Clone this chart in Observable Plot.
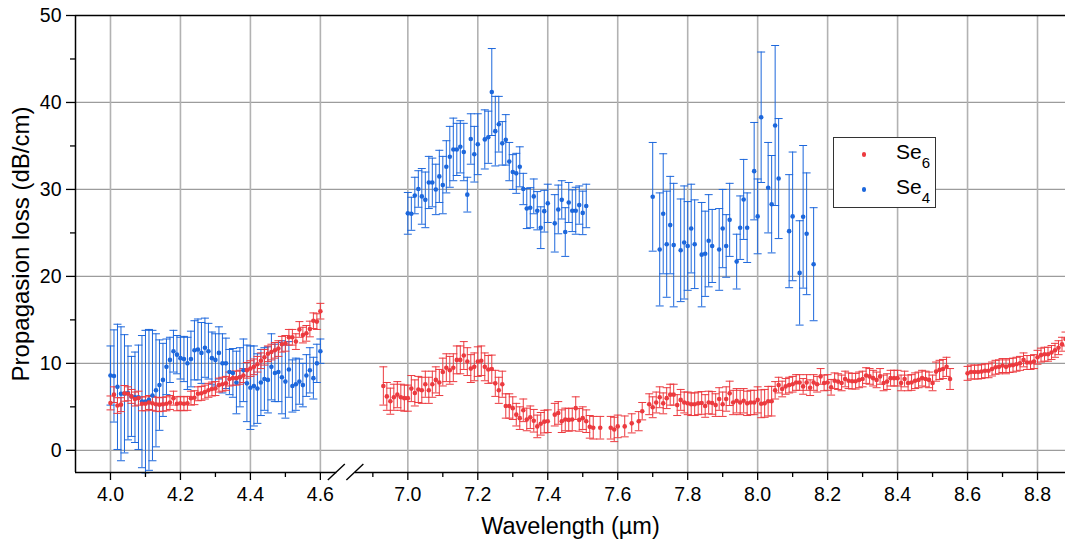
<!DOCTYPE html>
<html>
<head>
<meta charset="utf-8">
<script src="https://cdn.jsdelivr.net/npm/d3@7"></script>
<script src="https://cdn.jsdelivr.net/npm/@observablehq/plot@0.6"></script>
<style>
  body { margin: 0; background: #fff; }
  #wrap { position: relative; width: 1065px; height: 547px; overflow: hidden; font-family: 'Liberation Sans', Arial, sans-serif; }
  #legend { position: absolute; left: 833px; top: 137px; width: 103px; height: 71px; box-sizing: border-box; border: 1.3px solid #333; background: #fff; }
  .ldot { position: absolute; width: 4.6px; height: 4.6px; border-radius: 50%; left: 27.5px; }
  .ltxt { position: absolute; left: 62px; font-size: 21px; line-height: 20px; color: #000; white-space: nowrap; }
  .ltxt span { font-size: 15px; vertical-align: -8.5px; }
</style>
</head>
<body>
<div id="wrap">
  <div id="chart"></div>
  <div id="legend">
    <div class="ldot" style="top:14px;background:#ec3a3f"></div>
    <div class="ltxt" style="top:4px">Se<span>6</span></div>
    <div class="ldot" style="top:49px;background:#1c67dc"></div>
    <div class="ltxt" style="top:39px">Se<span>4</span></div>
  </div>
</div>
<script>
// ---------------- data ----------------
const seriesNames = ["Se6", "Se4"];
const seriesColors = ["#ec3a3f", "#1c67dc"];

// Se6 (red), 4.00–4.60 µm, step 0.01
const se6AStart = 4.00;
const se6AValues = [5.45,6.4,5.15,5.25,6.55,6.5,6.2,5.9,6.0,5.35,
  5.35,5.5,5.4,5.3,5.25,5.3,5.35,5.5,6.0,5.35,
  5.4,5.35,5.4,6.0,6.05,6.5,6.55,6.7,6.9,7.05,
  7.1,7.5,7.6,7.7,8.2,8.3,8.3,8.4,8.6,9.2,
  9.4,9.6,9.9,10.3,10.7,11.1,11.3,11.5,11.7,12.2,
  12.3,13.0,13.0,12.5,13.9,13.25,13.45,13.95,14.9,14.8,16.0];
const se6AErrors = [0.8,0.9,0.9,0.8,0.9,0.8,0.8,0.8,0.8,0.8,
  0.8,0.8,0.8,0.8,0.8,0.8,0.8,0.8,0.8,0.8,
  0.8,0.8,0.8,0.8,0.8,0.8,0.8,0.8,0.8,0.8,
  0.8,0.8,0.8,0.8,0.8,0.8,0.8,0.8,0.8,0.9,
  0.9,0.9,0.9,0.9,0.9,0.9,0.9,0.9,0.9,0.9,
  0.9,0.9,0.9,0.9,0.9,0.9,0.9,0.9,0.9,0.9,0.9];

// Se6 (red), 6.93–8.88 µm, step 0.01 (null = no point)
const se6BStart = 6.93;
const se6BValues = [7.4,6.2,5.65,6.1,6.4,6.1,6.0,
  6.0,7.1,6.6,7.0,6.9,7.6,6.9,7.6,8.1,7.8,
  9.0,9.5,9.2,9.5,10.4,10.4,10.9,10.2,9.4,9.6,
  10.2,10.3,9.6,9.3,9.35,7.7,6.9,7.6,5.1,5.1,
  4.85,4.1,3.7,4.6,3.55,3.8,3.4,2.75,3.05,3.3,
  3.35,null,4.1,4.3,3.35,3.55,3.5,3.55,4.85,3.5,
  3.7,3.35,2.7,2.6,null,2.6,null,null,2.6,2.4,
  2.75,null,2.75,null,3.1,null,3.35,4.5,null,5.3,
  4.95,5.5,6.1,5.4,6.0,6.4,6.4,5.2,5.8,5.5,
  5.4,5.3,5.3,5.4,5.45,5.1,5.5,5.45,5.2,5.9,
  5.3,5.9,6.55,5.5,5.7,5.5,5.7,5.4,5.5,5.5,
  5.8,5.35,5.4,5.65,5.65,6.9,7.5,7.05,7.35,7.5,
  7.6,7.8,7.8,7.35,7.8,7.2,7.8,7.6,8.5,7.75,
  7.8,7.25,8.0,7.9,7.75,8.2,8.0,7.95,7.95,8.1,
  8.2,8.6,8.5,8.3,8.1,8.5,7.75,7.9,8.3,8.3,
  8.3,7.75,8.2,7.75,7.8,8.0,8.1,8.3,8.2,8.1,
  7.75,9.05,9.25,9.35,9.6,8.2,null,null,null,null,
  8.85,9.0,9.0,9.0,9.05,9.15,9.15,9.35,9.55,9.6,
  9.75,9.6,9.75,9.8,9.9,10.0,10.4,10.1,10.1,10.2,
  10.7,10.95,11.05,11.05,11.25,11.5,11.8,12.2,12.8];
const se6BErrors = [2.2,1.6,1.5,1.5,1.5,1.5,1.5,
  1.5,1.5,1.5,1.5,1.5,1.5,1.5,1.5,1.5,1.5,
  1.6,1.6,1.6,1.6,1.6,1.6,1.6,1.6,1.6,1.6,
  1.7,1.7,1.6,1.6,1.6,1.5,1.5,1.5,1.4,1.4,
  1.3,1.3,1.3,1.3,1.3,1.3,1.3,1.3,1.3,1.3,
  1.3,1.3,1.3,1.3,1.3,1.3,1.3,1.3,1.3,1.3,
  1.3,1.3,1.3,1.3,1.3,1.3,1.3,1.3,1.3,1.4,
  1.3,1.3,1.2,1.2,1.1,1.1,1.1,1.0,1.2,1.2,
  1.2,1.2,1.2,1.2,1.2,1.2,1.2,1.2,1.2,1.2,
  1.3,1.3,1.3,1.3,1.3,1.3,1.3,1.3,1.3,1.3,
  1.4,1.4,1.4,1.4,1.4,1.4,1.4,1.4,1.4,1.4,
  1.5,1.6,1.6,1.7,1.7,1.0,0.9,0.9,0.9,0.9,
  0.9,0.9,0.9,0.9,0.9,0.9,0.9,0.9,0.9,0.9,
  0.9,0.9,0.9,0.9,0.9,0.9,0.9,0.9,0.9,0.9,
  0.9,0.9,0.9,0.9,0.9,0.9,0.9,0.9,0.9,0.9,
  0.9,0.9,0.9,0.9,0.9,0.9,0.9,0.9,0.9,0.9,
  0.9,1.1,1.1,1.1,1.1,1.2,0.9,0.9,0.9,0.9,
  0.8,0.8,0.8,0.8,0.8,0.8,0.8,0.8,0.8,0.8,
  0.8,0.8,0.8,0.8,0.8,0.8,0.8,0.8,0.8,0.8,
  0.8,0.8,0.8,0.8,0.8,0.8,0.8,0.8,0.8];

// Se4 (blue), 4.00–4.60 µm, step 0.01
const se4AStart = 4.00;
const se4AValues = [8.6,8.55,7.3,6.5,6.5,6.6,6.2,6.1,6.1,5.6,
  5.6,5.8,6.3,6.9,7.5,8.1,9.6,10.4,11.4,11.0,
  10.6,10.5,10.0,10.5,11.5,11.6,11.2,11.8,11.4,10.6,
  10.4,11.2,10.0,10.0,9.0,8.9,7.8,8.4,9.2,7.7,
  7.2,7.4,7.1,7.8,8.2,8.1,9.6,8.9,9.0,8.4,
  7.9,9.3,7.4,7.6,7.9,7.5,8.6,9.2,8.3,10.0,11.4];
const se4AErrors = [3.4,5.3,7.2,7.7,6.8,5.4,4.6,5.2,6.0,7.6,
  8.2,8.1,7.5,6.5,5.2,4.2,3.2,2.6,2.4,2.2,
  2.4,2.6,3.0,3.2,3.4,3.5,3.5,3.4,3.2,3.0,
  3.0,3.0,3.4,2.9,2.6,2.8,3.6,3.4,3.6,4.4,
  4.8,4.6,4.0,3.8,3.6,3.8,3.8,3.3,3.4,4.2,
  4.2,3.2,3.0,3.0,2.6,2.5,2.4,2.6,2.4,2.2,1.4];

// Se4 (blue), 7.00–7.51 µm, step 0.01
const se4BStart = 7.00;
const se4BValues = [27.25,27.2,29.3,30.05,29.2,28.8,30.8,30.8,30.0,31.5,
  30.5,32.6,33.75,34.6,34.6,34.9,34.3,29.4,35.8,34.05,
  35.2,null,35.75,36.0,41.2,36.7,37.5,35.3,35.7,33.2,
  32.0,31.85,32.6,30.05,27.8,27.9,29.2,27.55,25.6,27.5,
  28.4,null,26.1,27.7,28.8,25.1,28.5,27.55,27.55,28.2,
  27.3,28.1];
const se4BErrors = [2.4,1.9,2.1,2.1,3.2,3.2,3.0,2.8,2.9,3.0,
  3.3,3.0,3.5,3.6,3.0,3.0,3.3,2.0,2.9,3.2,
  3.5,3.5,3.4,3.0,5.0,4.0,3.2,2.5,2.9,2.2,
  2.0,2.3,2.3,1.8,2.3,2.3,2.0,2.2,2.4,2.4,
  2.2,2.2,3.3,2.8,2.2,2.8,2.3,2.4,2.7,2.2,
  2.5,2.5];

// Se4 (blue), 7.70–8.16 µm, step 0.01 (null = no point)
const se4CStart = 7.70;
const se4CValues = [29.15,null,23.1,27.2,23.7,25.9,23.6,null,23.0,23.9,
  23.5,25.5,23.7,null,22.5,22.6,24.1,23.5,null,23.1,
  25.5,23.5,26.5,null,21.7,25.6,28.85,25.6,null,32.1,
  26.9,38.3,null,30.2,28.3,37.35,31.25,null,null,25.2,
  26.9,null,20.4,26.85,24.9,null,21.4];
const se4CErrors = [6.25,6,6.5,6.9,6.1,5.6,7.1,6,5.9,6.5,
  5.1,5.1,5.1,5,6.0,4.9,5.3,4.2,5,4.7,
  4.5,3.6,4.2,4,3.15,3.65,4.6,4.0,5,5.6,
  4.3,7.5,5,5.2,5.6,9.2,6.9,6,6,6.5,
  7.4,6,6.0,8.2,7.0,6,6.5];

// axes
const xTicksMajor = [4.0,4.2,4.4,4.6,7.0,7.2,7.4,7.6,7.8,8.0,8.2,8.4,8.6,8.8];
const xTicksMinor = [4.1,4.3,4.5,6.9,7.1,7.3,7.5,7.7,7.9,8.1,8.3,8.5,8.7];
const yTicksMajor = [0,10,20,30,40,50];
const yTicksMinor = [5,15,25,35,45];
const yGrid = [0,10,20,30,40];
const xStart = 3.9, xEnd = 8.88;          // axis range (µm)
const breakLeft = 4.647, breakRight = 6.85; // axis break (µm)
const breakShift = 2.15;                  // removed span of the broken axis
const yMin = -2.55, yMax = 50;
const xTitle = "Wavelength (µm)";
const yTitle = "Propagasion loss (dB/cm)";

// ---------------- build ----------------
const xPos = wl => (wl < 6 ? wl : wl - breakShift);
const fmt = v => (v <= breakLeft ? v : v + breakShift).toFixed(1);

function build(start, vals, errs) {
  const out = [];
  vals.forEach((y, i) => {
    if (y == null) return;
    out.push({ wl: Math.round(start * 100 + i) / 100, y, e: errs[i] });
  });
  return out;
}
const se6 = [...build(se6AStart, se6AValues, se6AErrors), ...build(se6BStart, se6BValues, se6BErrors)];
const se4 = [...build(se4AStart, se4AValues, se4AErrors), ...build(se4BStart, se4BValues, se4BErrors), ...build(se4CStart, se4CValues, se4CErrors)];

const capSymbol = { draw(ctx) { ctx.moveTo(-4, 0); ctx.lineTo(4, 0); } };

function errMarks(data, color) {
  return [
    Plot.ruleX(data, { x: d => xPos(d.wl), y1: d => d.y - d.e, y2: d => d.y + d.e, stroke: color, strokeWidth: 1 }),
    Plot.dot(data, { x: d => xPos(d.wl), y: d => d.y + d.e, symbol: capSymbol, stroke: color, fill: "none", strokeWidth: 1 }),
    Plot.dot(data, { x: d => xPos(d.wl), y: d => d.y - d.e, symbol: capSymbol, stroke: color, fill: "none", strokeWidth: 1 })
  ];
}
function dotMarks(data, color) {
  return Plot.dot(data, { x: d => xPos(d.wl), y: "y", r: 2.3, fill: color, stroke: "none" });
}

const chart = Plot.plot({
  width: 1065,
  height: 547,
  marginLeft: 75,
  marginRight: 0,
  marginTop: 15,
  marginBottom: 75,
  style: { fontFamily: "'Liberation Sans', Arial, sans-serif", fontSize: "19px", color: "#000", background: "#fff", overflow: "visible" },
  x: { domain: [xPos(xStart), xPos(xEnd)] },
  y: { domain: [yMin, yMax] },
  marks: [
    Plot.gridY(yGrid, { stroke: "#9c9c9c", strokeOpacity: 1, strokeWidth: 1.2 }),
    Plot.gridX(xTicksMajor.map(xPos), { stroke: "#b2b2b2", strokeOpacity: 1, strokeWidth: 1.6 }),
    ...errMarks(se4, seriesColors[1]),
    ...errMarks(se6, seriesColors[0]),
    dotMarks(se4, seriesColors[1]),
    dotMarks(se6, seriesColors[0]),
    Plot.axisY(yTicksMajor, { tickSize: 9, tickPadding: 5, label: null, strokeWidth: 1.3, fontSize: 19.5 }),
    Plot.axisY(yTicksMinor, { tickSize: 5, tickFormat: () => "", fill: "none", label: null, strokeWidth: 1.3 }),
    Plot.axisX(xTicksMajor.map(xPos), { tickSize: 8, tickPadding: 7, tickFormat: fmt, label: null, strokeWidth: 1.3, fontSize: 19.5 }),
    Plot.axisX(xTicksMinor.map(xPos), { tickSize: 5, tickFormat: () => "", fill: "none", label: null, strokeWidth: 1.3 }),
    Plot.ruleX([xPos(xStart)], { stroke: "#000", strokeWidth: 1.5 }),
    Plot.ruleY([yMax], { stroke: "#000", strokeWidth: 1.5 }),
    Plot.ruleY([yMin], { x1: xPos(xStart), x2: xPos(breakLeft), stroke: "#000", strokeWidth: 1.5 }),
    Plot.ruleY([yMin], { x1: xPos(breakRight), x2: xPos(xEnd), stroke: "#000", strokeWidth: 1.5 }),
    Plot.text([xTitle], { frameAnchor: "bottom", dy: 54, lineAnchor: "middle", textAnchor: "middle", fontSize: 23.5 }),
    Plot.text([yTitle], { frameAnchor: "left", dx: -54, rotate: -90, textAnchor: "middle", lineAnchor: "middle", fontSize: 24 })
  ]
});
document.getElementById("chart").append(chart);

// axis-break slashes, placed through the chart's own scales
const sx = chart.scale("x"), sy = chart.scale("y");
const svg = d3.select(chart);
const by = sy.apply(yMin);
[breakLeft, breakRight].forEach(wl => {
  const cx = sx.apply(xPos(wl));
  svg.append("line")
    .attr("x1", cx - 8.5).attr("y1", by + 8)
    .attr("x2", cx + 8.5).attr("y2", by - 8)
    .attr("stroke", "#000").attr("stroke-width", 1.4);
});
</script>
</body>
</html>
